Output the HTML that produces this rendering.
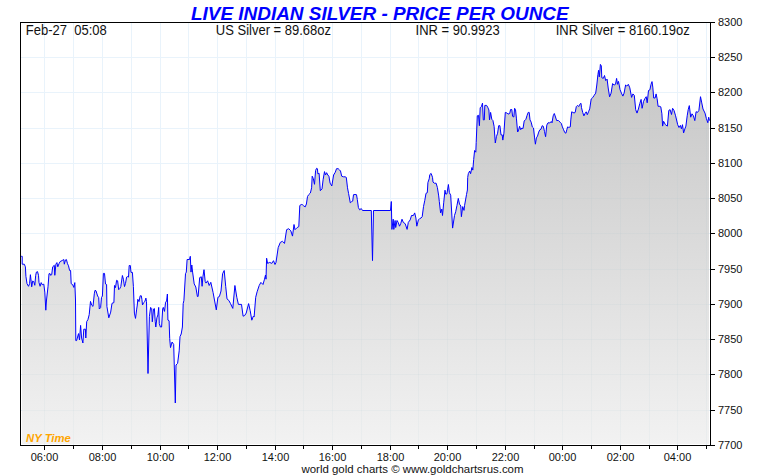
<!DOCTYPE html>
<html><head><meta charset="utf-8"><style>
html,body{margin:0;padding:0;background:#fff;}
body{width:760px;height:475px;overflow:hidden;position:relative;font-family:"Liberation Sans",sans-serif;}
svg{position:absolute;left:0;top:0;}
text{font-family:"Liberation Sans",sans-serif;}
</style></head><body>
<svg width="760" height="475" viewBox="0 0 760 475">
<defs>
<linearGradient id="g" gradientUnits="userSpaceOnUse" x1="0" y1="64" x2="0" y2="445">
<stop offset="0" stop-color="#c6c6c6"/><stop offset="1" stop-color="#f2f2f2"/>
</linearGradient>
<clipPath id="c"><rect x="22" y="23" width="687" height="421"/></clipPath>
<clipPath id="fc"><polygon points="21.2,256.3 22.2,256.3 22.2,264.2 24.3,264.2 25.4,266.8 25.9,276.3 27.0,283.7 28.5,286.3 29.6,283.7 30.4,274.7 31.2,281.6 31.7,286.8 32.7,281.0 33.8,281.6 34.8,285.3 35.7,275.3 36.4,272.1 37.5,271.6 38.5,275.3 39.0,282.6 40.1,286.3 41.2,282.6 42.2,284.7 43.8,284.2 44.8,292.1 45.8,310.2 46.5,300.0 48.0,286.8 49.0,273.7 50.1,273.7 50.6,275.3 51.7,274.7 52.7,266.8 54.3,265.3 54.8,275.3 55.9,264.2 56.9,262.6 57.8,266.8 59.0,263.7 60.1,261.6 62.2,260.5 63.8,259.5 64.3,264.2 65.4,260.0 66.4,259.5 67.5,263.7 68.5,265.8 69.6,270.5 70.6,270.5 71.2,283.7 72.7,284.7 73.8,287.4 74.8,282.6 75.5,300.0 75.8,340.6 76.6,340.6 78.5,333.6 79.5,340.0 80.6,325.4 81.6,338.0 82.9,343.0 83.8,329.2 85.4,329.2 85.8,338.0 86.7,321.6 87.9,319.7 89.2,314.7 90.5,301.4 91.7,305.2 93.0,306.4 94.3,293.8 95.0,290.3 96.0,290.8 97.6,296.0 98.7,297.6 99.3,309.0 100.6,307.7 101.5,297.5 102.4,296.0 103.4,273.4 104.5,273.4 105.5,284.0 106.6,284.5 106.9,306.4 108.8,317.8 110.7,312.1 112.0,303.3 113.9,302.6 114.5,285.5 115.5,287.6 116.6,280.3 117.6,280.8 118.7,289.7 119.7,288.7 120.8,286.6 122.4,275.5 123.4,279.2 124.5,286.6 125.5,283.4 126.6,277.1 127.6,276.6 128.5,277.1 129.2,265.5 130.3,265.5 131.0,272.4 132.4,272.4 133.4,286.6 134.4,313.1 135.5,318.4 136.7,309.1 137.3,305.0 137.8,299.3 139.0,301.6 140.2,295.8 141.3,295.8 141.9,299.3 142.5,305.0 143.6,302.7 144.8,301.6 145.9,298.1 146.5,301.6 147.1,330.0 148.0,373.5 148.8,340.0 149.4,316.6 150.6,307.4 151.7,308.5 152.3,321.8 153.5,309.1 154.4,308.5 155.2,321.3 155.8,327.0 156.9,317.8 157.9,314.9 158.7,307.4 159.3,323.6 160.4,327.0 161.6,327.0 162.7,308.5 163.3,307.4 164.5,311.4 165.6,302.2 166.6,301.0 167.4,294.0 167.9,320.1 169.1,320.7 169.7,338.6 170.5,347.6 172.1,342.0 173.7,344.5 175.3,403.0 176.0,365.0 177.6,363.4 179.2,350.8 180.0,336.6 181.2,334.0 182.4,327.0 183.2,303.6 183.9,300.5 185.5,273.7 186.3,272.1 187.1,259.5 189.5,259.5 190.3,256.3 191.0,272.1 191.8,265.0 192.6,272.1 194.2,283.9 195.8,287.0 197.4,296.5 198.1,296.5 199.7,277.6 201.3,276.8 202.1,286.3 202.9,276.8 204.0,269.7 205.2,281.5 206.0,283.1 207.6,280.8 209.2,285.5 210.8,282.3 213.1,292.6 216.3,309.9 217.9,297.3 219.4,296.5 221.0,291.0 222.6,273.7 224.2,270.5 225.7,286.3 227.0,298.9 228.9,300.5 230.5,303.6 232.8,308.4 234.9,285.5 236.8,297.3 238.4,304.4 241.5,304.4 243.1,316.2 244.7,315.5 246.2,313.1 248.6,303.6 250.2,310.7 251.8,320.2 253.3,316.2 254.1,317.0 255.7,297.3 257.1,291.8 259.2,285.5 260.9,282.4 263.0,284.5 264.5,279.2 265.5,275.0 266.0,279.2 266.6,258.2 267.6,263.4 269.7,262.4 271.8,263.4 273.5,260.7 275.0,264.5 276.0,262.4 278.2,247.6 280.3,242.4 282.4,241.3 284.5,243.4 286.6,229.7 288.7,228.7 290.8,230.8 292.5,236.1 294.0,224.5 295.0,229.7 297.1,227.6 298.8,226.6 299.8,205.5 301.3,204.5 302.3,204.6 303.5,205.7 305.2,206.9 306.4,204.0 307.5,196.5 308.7,194.7 310.4,193.0 311.6,187.8 312.2,176.2 313.3,178.5 314.5,184.3 315.6,170.4 316.6,168.3 317.4,168.7 317.9,173.9 319.1,173.3 320.3,190.7 322.0,188.9 323.1,179.7 324.5,171.6 325.5,175.0 326.6,172.7 327.8,175.0 328.9,176.2 330.1,183.1 331.8,186.0 333.6,175.0 335.3,172.2 336.5,168.7 338.2,168.7 339.4,169.8 340.5,171.0 341.7,176.2 343.4,176.8 345.1,176.8 346.3,177.4 347.5,187.8 348.6,193.6 350.3,202.8 351.5,201.7 352.7,201.1 353.5,194.7 355.0,194.5 356.5,194.7 357.3,199.4 358.4,207.5 359.6,209.8 361.3,208.6 362.5,210.5 371.3,210.5 372.5,260.6 373.5,210.5 390.5,210.5 391.3,201.5 391.9,229.4 393.2,219.2 393.8,229.4 395.1,220.5 395.7,227.5 397.0,220.5 398.2,222.4 399.5,226.2 400.7,223.7 402.0,219.2 403.3,222.4 405.2,223.7 407.1,229.4 408.3,222.4 410.2,219.9 411.5,215.5 413.4,215.5 414.7,212.9 415.9,218.0 416.8,226.2 418.4,219.9 419.7,218.6 421.0,218.0 422.2,216.7 423.5,206.6 424.8,200.3 426.0,193.3 427.3,192.7 427.9,182.6 429.2,178.8 429.8,174.6 431.1,173.4 432.5,177.3 433.0,182.0 434.2,183.2 436.1,183.2 437.4,187.6 438.7,195.9 439.3,201.5 440.6,212.9 441.8,209.1 442.5,215.5 443.7,202.8 445.0,190.2 445.6,194.0 446.9,194.0 448.4,184.5 449.4,192.7 450.7,195.2 452.6,228.1 454.5,215.5 455.7,211.7 457.0,205.3 458.3,198.4 459.5,204.1 460.8,206.0 461.4,216.7 462.7,206.6 464.0,210.4 464.6,205.3 466.5,194.6 467.4,190.0 467.7,177.5 468.3,173.7 469.7,171.0 470.6,173.7 471.9,167.5 472.8,170.1 473.7,159.4 474.6,150.5 475.8,152.2 476.2,142.5 477.3,115.8 478.5,115.3 479.4,125.7 480.2,107.7 481.4,106.6 482.5,103.1 483.3,119.9 484.3,119.9 484.8,105.4 486.6,105.4 487.7,107.2 488.9,110.0 489.5,119.9 490.6,112.4 491.8,119.3 492.9,120.5 494.1,126.3 495.3,143.0 496.4,136.7 497.6,133.2 498.7,125.7 499.9,125.7 501.0,134.9 502.2,134.9 502.8,140.1 503.9,133.2 505.3,112.4 506.8,112.9 508.0,114.1 509.7,113.5 510.6,109.5 511.8,109.5 512.6,116.4 513.8,117.0 514.6,108.3 515.5,109.5 516.4,118.1 517.6,132.0 518.4,130.9 519.6,126.3 520.7,129.7 521.9,128.0 523.0,128.6 524.2,121.0 525.9,119.3 527.1,115.3 528.2,112.4 529.2,112.4 530.0,119.9 531.2,122.2 532.3,126.9 533.5,128.0 534.6,137.9 535.4,144.2 536.4,137.9 537.5,136.1 538.7,132.1 539.8,129.8 541.0,129.2 542.2,125.7 543.3,126.3 544.5,131.5 545.6,136.7 546.8,125.1 548.0,122.8 549.7,122.8 551.4,121.6 552.0,122.8 553.2,115.8 554.3,113.5 555.5,117.0 556.6,120.5 558.4,120.5 560.1,122.2 561.3,123.4 562.4,126.9 563.6,129.8 564.8,132.6 565.9,133.2 566.8,129.8 567.6,126.9 568.8,127.4 570.3,126.9 570.8,119.9 571.7,111.8 572.9,112.4 574.0,113.0 575.2,112.4 576.3,106.6 577.5,105.4 578.7,106.6 579.8,104.3 581.0,103.3 581.5,107.7 582.7,112.4 583.9,115.9 585.0,113.5 586.2,111.8 587.3,114.7 588.5,111.8 589.7,108.9 591.2,99.0 592.7,97.6 594.2,95.3 595.7,93.1 596.8,85.0 597.9,74.7 598.6,70.3 599.3,76.9 600.4,64.4 601.3,65.9 601.8,77.7 603.3,78.4 604.5,75.5 605.7,80.6 607.1,79.1 608.2,88.0 609.6,96.8 611.1,93.1 612.6,83.6 614.1,85.0 615.5,84.3 616.6,78.4 617.5,84.3 618.5,81.4 620.0,89.5 621.4,93.1 622.9,96.1 624.1,93.1 625.6,85.0 626.6,85.8 628.1,85.0 628.4,84.4 629.8,87.8 631.6,97.4 632.9,93.9 634.3,95.3 635.7,109.7 637.0,113.1 638.4,109.0 639.8,103.5 641.1,99.4 642.1,108.3 643.5,101.5 644.8,98.7 646.2,96.7 647.2,102.8 648.5,90.5 649.9,89.8 651.0,84.4 652.0,81.6 652.8,87.1 653.7,98.0 655.1,98.0 656.1,93.9 657.1,98.7 658.1,106.3 659.9,106.3 660.8,106.9 661.9,113.8 662.6,126.1 663.6,121.3 665.4,124.7 667.4,126.1 668.8,110.4 670.1,109.7 671.5,114.5 672.6,108.3 674.0,110.4 675.6,115.8 677.7,124.7 679.0,127.5 680.4,125.4 681.4,128.8 682.5,124.7 683.6,132.9 684.9,128.8 685.9,126.1 687.2,115.8 688.2,109.7 689.3,105.6 690.7,117.2 692.0,113.8 693.4,115.8 694.8,120.6 696.1,111.7 697.5,112.4 698.9,110.4 700.5,96.7 701.6,102.1 703.0,109.0 705.0,113.1 706.4,118.6 707.8,122.7 708.7,117.2 709.5,120.6 709.5,445 21.2,445"/></clipPath>
</defs>
<rect width="760" height="475" fill="#fff"/>
<g fill="#e9f3fb" shape-rendering="crispEdges"><rect x="44" y="23" width="1" height="422"/><rect x="73" y="23" width="1" height="422"/><rect x="102" y="23" width="1" height="422"/><rect x="131" y="23" width="1" height="422"/><rect x="160" y="23" width="1" height="422"/><rect x="188" y="23" width="1" height="422"/><rect x="217" y="23" width="1" height="422"/><rect x="246" y="23" width="1" height="422"/><rect x="275" y="23" width="1" height="422"/><rect x="303" y="23" width="1" height="422"/><rect x="332" y="23" width="1" height="422"/><rect x="361" y="23" width="1" height="422"/><rect x="390" y="23" width="1" height="422"/><rect x="418" y="23" width="1" height="422"/><rect x="447" y="23" width="1" height="422"/><rect x="476" y="23" width="1" height="422"/><rect x="505" y="23" width="1" height="422"/><rect x="534" y="23" width="1" height="422"/><rect x="562" y="23" width="1" height="422"/><rect x="591" y="23" width="1" height="422"/><rect x="620" y="23" width="1" height="422"/><rect x="649" y="23" width="1" height="422"/><rect x="677" y="23" width="1" height="422"/><rect x="706" y="23" width="1" height="422"/><rect x="21" y="57" width="689" height="1"/><rect x="21" y="92" width="689" height="1"/><rect x="21" y="128" width="689" height="1"/><rect x="21" y="163" width="689" height="1"/><rect x="21" y="198" width="689" height="1"/><rect x="21" y="233" width="689" height="1"/><rect x="21" y="269" width="689" height="1"/><rect x="21" y="304" width="689" height="1"/><rect x="21" y="339" width="689" height="1"/><rect x="21" y="374" width="689" height="1"/><rect x="21" y="410" width="689" height="1"/></g>
<polygon clip-path="url(#c)" points="21.2,256.3 22.2,256.3 22.2,264.2 24.3,264.2 25.4,266.8 25.9,276.3 27.0,283.7 28.5,286.3 29.6,283.7 30.4,274.7 31.2,281.6 31.7,286.8 32.7,281.0 33.8,281.6 34.8,285.3 35.7,275.3 36.4,272.1 37.5,271.6 38.5,275.3 39.0,282.6 40.1,286.3 41.2,282.6 42.2,284.7 43.8,284.2 44.8,292.1 45.8,310.2 46.5,300.0 48.0,286.8 49.0,273.7 50.1,273.7 50.6,275.3 51.7,274.7 52.7,266.8 54.3,265.3 54.8,275.3 55.9,264.2 56.9,262.6 57.8,266.8 59.0,263.7 60.1,261.6 62.2,260.5 63.8,259.5 64.3,264.2 65.4,260.0 66.4,259.5 67.5,263.7 68.5,265.8 69.6,270.5 70.6,270.5 71.2,283.7 72.7,284.7 73.8,287.4 74.8,282.6 75.5,300.0 75.8,340.6 76.6,340.6 78.5,333.6 79.5,340.0 80.6,325.4 81.6,338.0 82.9,343.0 83.8,329.2 85.4,329.2 85.8,338.0 86.7,321.6 87.9,319.7 89.2,314.7 90.5,301.4 91.7,305.2 93.0,306.4 94.3,293.8 95.0,290.3 96.0,290.8 97.6,296.0 98.7,297.6 99.3,309.0 100.6,307.7 101.5,297.5 102.4,296.0 103.4,273.4 104.5,273.4 105.5,284.0 106.6,284.5 106.9,306.4 108.8,317.8 110.7,312.1 112.0,303.3 113.9,302.6 114.5,285.5 115.5,287.6 116.6,280.3 117.6,280.8 118.7,289.7 119.7,288.7 120.8,286.6 122.4,275.5 123.4,279.2 124.5,286.6 125.5,283.4 126.6,277.1 127.6,276.6 128.5,277.1 129.2,265.5 130.3,265.5 131.0,272.4 132.4,272.4 133.4,286.6 134.4,313.1 135.5,318.4 136.7,309.1 137.3,305.0 137.8,299.3 139.0,301.6 140.2,295.8 141.3,295.8 141.9,299.3 142.5,305.0 143.6,302.7 144.8,301.6 145.9,298.1 146.5,301.6 147.1,330.0 148.0,373.5 148.8,340.0 149.4,316.6 150.6,307.4 151.7,308.5 152.3,321.8 153.5,309.1 154.4,308.5 155.2,321.3 155.8,327.0 156.9,317.8 157.9,314.9 158.7,307.4 159.3,323.6 160.4,327.0 161.6,327.0 162.7,308.5 163.3,307.4 164.5,311.4 165.6,302.2 166.6,301.0 167.4,294.0 167.9,320.1 169.1,320.7 169.7,338.6 170.5,347.6 172.1,342.0 173.7,344.5 175.3,403.0 176.0,365.0 177.6,363.4 179.2,350.8 180.0,336.6 181.2,334.0 182.4,327.0 183.2,303.6 183.9,300.5 185.5,273.7 186.3,272.1 187.1,259.5 189.5,259.5 190.3,256.3 191.0,272.1 191.8,265.0 192.6,272.1 194.2,283.9 195.8,287.0 197.4,296.5 198.1,296.5 199.7,277.6 201.3,276.8 202.1,286.3 202.9,276.8 204.0,269.7 205.2,281.5 206.0,283.1 207.6,280.8 209.2,285.5 210.8,282.3 213.1,292.6 216.3,309.9 217.9,297.3 219.4,296.5 221.0,291.0 222.6,273.7 224.2,270.5 225.7,286.3 227.0,298.9 228.9,300.5 230.5,303.6 232.8,308.4 234.9,285.5 236.8,297.3 238.4,304.4 241.5,304.4 243.1,316.2 244.7,315.5 246.2,313.1 248.6,303.6 250.2,310.7 251.8,320.2 253.3,316.2 254.1,317.0 255.7,297.3 257.1,291.8 259.2,285.5 260.9,282.4 263.0,284.5 264.5,279.2 265.5,275.0 266.0,279.2 266.6,258.2 267.6,263.4 269.7,262.4 271.8,263.4 273.5,260.7 275.0,264.5 276.0,262.4 278.2,247.6 280.3,242.4 282.4,241.3 284.5,243.4 286.6,229.7 288.7,228.7 290.8,230.8 292.5,236.1 294.0,224.5 295.0,229.7 297.1,227.6 298.8,226.6 299.8,205.5 301.3,204.5 302.3,204.6 303.5,205.7 305.2,206.9 306.4,204.0 307.5,196.5 308.7,194.7 310.4,193.0 311.6,187.8 312.2,176.2 313.3,178.5 314.5,184.3 315.6,170.4 316.6,168.3 317.4,168.7 317.9,173.9 319.1,173.3 320.3,190.7 322.0,188.9 323.1,179.7 324.5,171.6 325.5,175.0 326.6,172.7 327.8,175.0 328.9,176.2 330.1,183.1 331.8,186.0 333.6,175.0 335.3,172.2 336.5,168.7 338.2,168.7 339.4,169.8 340.5,171.0 341.7,176.2 343.4,176.8 345.1,176.8 346.3,177.4 347.5,187.8 348.6,193.6 350.3,202.8 351.5,201.7 352.7,201.1 353.5,194.7 355.0,194.5 356.5,194.7 357.3,199.4 358.4,207.5 359.6,209.8 361.3,208.6 362.5,210.5 371.3,210.5 372.5,260.6 373.5,210.5 390.5,210.5 391.3,201.5 391.9,229.4 393.2,219.2 393.8,229.4 395.1,220.5 395.7,227.5 397.0,220.5 398.2,222.4 399.5,226.2 400.7,223.7 402.0,219.2 403.3,222.4 405.2,223.7 407.1,229.4 408.3,222.4 410.2,219.9 411.5,215.5 413.4,215.5 414.7,212.9 415.9,218.0 416.8,226.2 418.4,219.9 419.7,218.6 421.0,218.0 422.2,216.7 423.5,206.6 424.8,200.3 426.0,193.3 427.3,192.7 427.9,182.6 429.2,178.8 429.8,174.6 431.1,173.4 432.5,177.3 433.0,182.0 434.2,183.2 436.1,183.2 437.4,187.6 438.7,195.9 439.3,201.5 440.6,212.9 441.8,209.1 442.5,215.5 443.7,202.8 445.0,190.2 445.6,194.0 446.9,194.0 448.4,184.5 449.4,192.7 450.7,195.2 452.6,228.1 454.5,215.5 455.7,211.7 457.0,205.3 458.3,198.4 459.5,204.1 460.8,206.0 461.4,216.7 462.7,206.6 464.0,210.4 464.6,205.3 466.5,194.6 467.4,190.0 467.7,177.5 468.3,173.7 469.7,171.0 470.6,173.7 471.9,167.5 472.8,170.1 473.7,159.4 474.6,150.5 475.8,152.2 476.2,142.5 477.3,115.8 478.5,115.3 479.4,125.7 480.2,107.7 481.4,106.6 482.5,103.1 483.3,119.9 484.3,119.9 484.8,105.4 486.6,105.4 487.7,107.2 488.9,110.0 489.5,119.9 490.6,112.4 491.8,119.3 492.9,120.5 494.1,126.3 495.3,143.0 496.4,136.7 497.6,133.2 498.7,125.7 499.9,125.7 501.0,134.9 502.2,134.9 502.8,140.1 503.9,133.2 505.3,112.4 506.8,112.9 508.0,114.1 509.7,113.5 510.6,109.5 511.8,109.5 512.6,116.4 513.8,117.0 514.6,108.3 515.5,109.5 516.4,118.1 517.6,132.0 518.4,130.9 519.6,126.3 520.7,129.7 521.9,128.0 523.0,128.6 524.2,121.0 525.9,119.3 527.1,115.3 528.2,112.4 529.2,112.4 530.0,119.9 531.2,122.2 532.3,126.9 533.5,128.0 534.6,137.9 535.4,144.2 536.4,137.9 537.5,136.1 538.7,132.1 539.8,129.8 541.0,129.2 542.2,125.7 543.3,126.3 544.5,131.5 545.6,136.7 546.8,125.1 548.0,122.8 549.7,122.8 551.4,121.6 552.0,122.8 553.2,115.8 554.3,113.5 555.5,117.0 556.6,120.5 558.4,120.5 560.1,122.2 561.3,123.4 562.4,126.9 563.6,129.8 564.8,132.6 565.9,133.2 566.8,129.8 567.6,126.9 568.8,127.4 570.3,126.9 570.8,119.9 571.7,111.8 572.9,112.4 574.0,113.0 575.2,112.4 576.3,106.6 577.5,105.4 578.7,106.6 579.8,104.3 581.0,103.3 581.5,107.7 582.7,112.4 583.9,115.9 585.0,113.5 586.2,111.8 587.3,114.7 588.5,111.8 589.7,108.9 591.2,99.0 592.7,97.6 594.2,95.3 595.7,93.1 596.8,85.0 597.9,74.7 598.6,70.3 599.3,76.9 600.4,64.4 601.3,65.9 601.8,77.7 603.3,78.4 604.5,75.5 605.7,80.6 607.1,79.1 608.2,88.0 609.6,96.8 611.1,93.1 612.6,83.6 614.1,85.0 615.5,84.3 616.6,78.4 617.5,84.3 618.5,81.4 620.0,89.5 621.4,93.1 622.9,96.1 624.1,93.1 625.6,85.0 626.6,85.8 628.1,85.0 628.4,84.4 629.8,87.8 631.6,97.4 632.9,93.9 634.3,95.3 635.7,109.7 637.0,113.1 638.4,109.0 639.8,103.5 641.1,99.4 642.1,108.3 643.5,101.5 644.8,98.7 646.2,96.7 647.2,102.8 648.5,90.5 649.9,89.8 651.0,84.4 652.0,81.6 652.8,87.1 653.7,98.0 655.1,98.0 656.1,93.9 657.1,98.7 658.1,106.3 659.9,106.3 660.8,106.9 661.9,113.8 662.6,126.1 663.6,121.3 665.4,124.7 667.4,126.1 668.8,110.4 670.1,109.7 671.5,114.5 672.6,108.3 674.0,110.4 675.6,115.8 677.7,124.7 679.0,127.5 680.4,125.4 681.4,128.8 682.5,124.7 683.6,132.9 684.9,128.8 685.9,126.1 687.2,115.8 688.2,109.7 689.3,105.6 690.7,117.2 692.0,113.8 693.4,115.8 694.8,120.6 696.1,111.7 697.5,112.4 698.9,110.4 700.5,96.7 701.6,102.1 703.0,109.0 705.0,113.1 706.4,118.6 707.8,122.7 708.7,117.2 709.5,120.6 709.5,445 21.2,445" fill="url(#g)"/>
<g clip-path="url(#fc)"><g fill="#90b8c8" fill-opacity="0.07" shape-rendering="crispEdges"><rect x="44" y="23" width="1" height="422"/><rect x="73" y="23" width="1" height="422"/><rect x="102" y="23" width="1" height="422"/><rect x="131" y="23" width="1" height="422"/><rect x="160" y="23" width="1" height="422"/><rect x="188" y="23" width="1" height="422"/><rect x="217" y="23" width="1" height="422"/><rect x="246" y="23" width="1" height="422"/><rect x="275" y="23" width="1" height="422"/><rect x="303" y="23" width="1" height="422"/><rect x="332" y="23" width="1" height="422"/><rect x="361" y="23" width="1" height="422"/><rect x="390" y="23" width="1" height="422"/><rect x="418" y="23" width="1" height="422"/><rect x="447" y="23" width="1" height="422"/><rect x="476" y="23" width="1" height="422"/><rect x="505" y="23" width="1" height="422"/><rect x="534" y="23" width="1" height="422"/><rect x="562" y="23" width="1" height="422"/><rect x="591" y="23" width="1" height="422"/><rect x="620" y="23" width="1" height="422"/><rect x="649" y="23" width="1" height="422"/><rect x="677" y="23" width="1" height="422"/><rect x="706" y="23" width="1" height="422"/><rect x="21" y="57" width="689" height="1"/><rect x="21" y="92" width="689" height="1"/><rect x="21" y="128" width="689" height="1"/><rect x="21" y="163" width="689" height="1"/><rect x="21" y="198" width="689" height="1"/><rect x="21" y="233" width="689" height="1"/><rect x="21" y="269" width="689" height="1"/><rect x="21" y="304" width="689" height="1"/><rect x="21" y="339" width="689" height="1"/><rect x="21" y="374" width="689" height="1"/><rect x="21" y="410" width="689" height="1"/></g></g>
<polyline points="21.2,256.3 22.2,256.3 22.2,264.2 24.3,264.2 25.4,266.8 25.9,276.3 27.0,283.7 28.5,286.3 29.6,283.7 30.4,274.7 31.2,281.6 31.7,286.8 32.7,281.0 33.8,281.6 34.8,285.3 35.7,275.3 36.4,272.1 37.5,271.6 38.5,275.3 39.0,282.6 40.1,286.3 41.2,282.6 42.2,284.7 43.8,284.2 44.8,292.1 45.8,310.2 46.5,300.0 48.0,286.8 49.0,273.7 50.1,273.7 50.6,275.3 51.7,274.7 52.7,266.8 54.3,265.3 54.8,275.3 55.9,264.2 56.9,262.6 57.8,266.8 59.0,263.7 60.1,261.6 62.2,260.5 63.8,259.5 64.3,264.2 65.4,260.0 66.4,259.5 67.5,263.7 68.5,265.8 69.6,270.5 70.6,270.5 71.2,283.7 72.7,284.7 73.8,287.4 74.8,282.6 75.5,300.0 75.8,340.6 76.6,340.6 78.5,333.6 79.5,340.0 80.6,325.4 81.6,338.0 82.9,343.0 83.8,329.2 85.4,329.2 85.8,338.0 86.7,321.6 87.9,319.7 89.2,314.7 90.5,301.4 91.7,305.2 93.0,306.4 94.3,293.8 95.0,290.3 96.0,290.8 97.6,296.0 98.7,297.6 99.3,309.0 100.6,307.7 101.5,297.5 102.4,296.0 103.4,273.4 104.5,273.4 105.5,284.0 106.6,284.5 106.9,306.4 108.8,317.8 110.7,312.1 112.0,303.3 113.9,302.6 114.5,285.5 115.5,287.6 116.6,280.3 117.6,280.8 118.7,289.7 119.7,288.7 120.8,286.6 122.4,275.5 123.4,279.2 124.5,286.6 125.5,283.4 126.6,277.1 127.6,276.6 128.5,277.1 129.2,265.5 130.3,265.5 131.0,272.4 132.4,272.4 133.4,286.6 134.4,313.1 135.5,318.4 136.7,309.1 137.3,305.0 137.8,299.3 139.0,301.6 140.2,295.8 141.3,295.8 141.9,299.3 142.5,305.0 143.6,302.7 144.8,301.6 145.9,298.1 146.5,301.6 147.1,330.0 148.0,373.5 148.8,340.0 149.4,316.6 150.6,307.4 151.7,308.5 152.3,321.8 153.5,309.1 154.4,308.5 155.2,321.3 155.8,327.0 156.9,317.8 157.9,314.9 158.7,307.4 159.3,323.6 160.4,327.0 161.6,327.0 162.7,308.5 163.3,307.4 164.5,311.4 165.6,302.2 166.6,301.0 167.4,294.0 167.9,320.1 169.1,320.7 169.7,338.6 170.5,347.6 172.1,342.0 173.7,344.5 175.3,403.0 176.0,365.0 177.6,363.4 179.2,350.8 180.0,336.6 181.2,334.0 182.4,327.0 183.2,303.6 183.9,300.5 185.5,273.7 186.3,272.1 187.1,259.5 189.5,259.5 190.3,256.3 191.0,272.1 191.8,265.0 192.6,272.1 194.2,283.9 195.8,287.0 197.4,296.5 198.1,296.5 199.7,277.6 201.3,276.8 202.1,286.3 202.9,276.8 204.0,269.7 205.2,281.5 206.0,283.1 207.6,280.8 209.2,285.5 210.8,282.3 213.1,292.6 216.3,309.9 217.9,297.3 219.4,296.5 221.0,291.0 222.6,273.7 224.2,270.5 225.7,286.3 227.0,298.9 228.9,300.5 230.5,303.6 232.8,308.4 234.9,285.5 236.8,297.3 238.4,304.4 241.5,304.4 243.1,316.2 244.7,315.5 246.2,313.1 248.6,303.6 250.2,310.7 251.8,320.2 253.3,316.2 254.1,317.0 255.7,297.3 257.1,291.8 259.2,285.5 260.9,282.4 263.0,284.5 264.5,279.2 265.5,275.0 266.0,279.2 266.6,258.2 267.6,263.4 269.7,262.4 271.8,263.4 273.5,260.7 275.0,264.5 276.0,262.4 278.2,247.6 280.3,242.4 282.4,241.3 284.5,243.4 286.6,229.7 288.7,228.7 290.8,230.8 292.5,236.1 294.0,224.5 295.0,229.7 297.1,227.6 298.8,226.6 299.8,205.5 301.3,204.5 302.3,204.6 303.5,205.7 305.2,206.9 306.4,204.0 307.5,196.5 308.7,194.7 310.4,193.0 311.6,187.8 312.2,176.2 313.3,178.5 314.5,184.3 315.6,170.4 316.6,168.3 317.4,168.7 317.9,173.9 319.1,173.3 320.3,190.7 322.0,188.9 323.1,179.7 324.5,171.6 325.5,175.0 326.6,172.7 327.8,175.0 328.9,176.2 330.1,183.1 331.8,186.0 333.6,175.0 335.3,172.2 336.5,168.7 338.2,168.7 339.4,169.8 340.5,171.0 341.7,176.2 343.4,176.8 345.1,176.8 346.3,177.4 347.5,187.8 348.6,193.6 350.3,202.8 351.5,201.7 352.7,201.1 353.5,194.7 355.0,194.5 356.5,194.7 357.3,199.4 358.4,207.5 359.6,209.8 361.3,208.6 362.5,210.5 371.3,210.5 372.5,260.6 373.5,210.5 390.5,210.5 391.3,201.5 391.9,229.4 393.2,219.2 393.8,229.4 395.1,220.5 395.7,227.5 397.0,220.5 398.2,222.4 399.5,226.2 400.7,223.7 402.0,219.2 403.3,222.4 405.2,223.7 407.1,229.4 408.3,222.4 410.2,219.9 411.5,215.5 413.4,215.5 414.7,212.9 415.9,218.0 416.8,226.2 418.4,219.9 419.7,218.6 421.0,218.0 422.2,216.7 423.5,206.6 424.8,200.3 426.0,193.3 427.3,192.7 427.9,182.6 429.2,178.8 429.8,174.6 431.1,173.4 432.5,177.3 433.0,182.0 434.2,183.2 436.1,183.2 437.4,187.6 438.7,195.9 439.3,201.5 440.6,212.9 441.8,209.1 442.5,215.5 443.7,202.8 445.0,190.2 445.6,194.0 446.9,194.0 448.4,184.5 449.4,192.7 450.7,195.2 452.6,228.1 454.5,215.5 455.7,211.7 457.0,205.3 458.3,198.4 459.5,204.1 460.8,206.0 461.4,216.7 462.7,206.6 464.0,210.4 464.6,205.3 466.5,194.6 467.4,190.0 467.7,177.5 468.3,173.7 469.7,171.0 470.6,173.7 471.9,167.5 472.8,170.1 473.7,159.4 474.6,150.5 475.8,152.2 476.2,142.5 477.3,115.8 478.5,115.3 479.4,125.7 480.2,107.7 481.4,106.6 482.5,103.1 483.3,119.9 484.3,119.9 484.8,105.4 486.6,105.4 487.7,107.2 488.9,110.0 489.5,119.9 490.6,112.4 491.8,119.3 492.9,120.5 494.1,126.3 495.3,143.0 496.4,136.7 497.6,133.2 498.7,125.7 499.9,125.7 501.0,134.9 502.2,134.9 502.8,140.1 503.9,133.2 505.3,112.4 506.8,112.9 508.0,114.1 509.7,113.5 510.6,109.5 511.8,109.5 512.6,116.4 513.8,117.0 514.6,108.3 515.5,109.5 516.4,118.1 517.6,132.0 518.4,130.9 519.6,126.3 520.7,129.7 521.9,128.0 523.0,128.6 524.2,121.0 525.9,119.3 527.1,115.3 528.2,112.4 529.2,112.4 530.0,119.9 531.2,122.2 532.3,126.9 533.5,128.0 534.6,137.9 535.4,144.2 536.4,137.9 537.5,136.1 538.7,132.1 539.8,129.8 541.0,129.2 542.2,125.7 543.3,126.3 544.5,131.5 545.6,136.7 546.8,125.1 548.0,122.8 549.7,122.8 551.4,121.6 552.0,122.8 553.2,115.8 554.3,113.5 555.5,117.0 556.6,120.5 558.4,120.5 560.1,122.2 561.3,123.4 562.4,126.9 563.6,129.8 564.8,132.6 565.9,133.2 566.8,129.8 567.6,126.9 568.8,127.4 570.3,126.9 570.8,119.9 571.7,111.8 572.9,112.4 574.0,113.0 575.2,112.4 576.3,106.6 577.5,105.4 578.7,106.6 579.8,104.3 581.0,103.3 581.5,107.7 582.7,112.4 583.9,115.9 585.0,113.5 586.2,111.8 587.3,114.7 588.5,111.8 589.7,108.9 591.2,99.0 592.7,97.6 594.2,95.3 595.7,93.1 596.8,85.0 597.9,74.7 598.6,70.3 599.3,76.9 600.4,64.4 601.3,65.9 601.8,77.7 603.3,78.4 604.5,75.5 605.7,80.6 607.1,79.1 608.2,88.0 609.6,96.8 611.1,93.1 612.6,83.6 614.1,85.0 615.5,84.3 616.6,78.4 617.5,84.3 618.5,81.4 620.0,89.5 621.4,93.1 622.9,96.1 624.1,93.1 625.6,85.0 626.6,85.8 628.1,85.0 628.4,84.4 629.8,87.8 631.6,97.4 632.9,93.9 634.3,95.3 635.7,109.7 637.0,113.1 638.4,109.0 639.8,103.5 641.1,99.4 642.1,108.3 643.5,101.5 644.8,98.7 646.2,96.7 647.2,102.8 648.5,90.5 649.9,89.8 651.0,84.4 652.0,81.6 652.8,87.1 653.7,98.0 655.1,98.0 656.1,93.9 657.1,98.7 658.1,106.3 659.9,106.3 660.8,106.9 661.9,113.8 662.6,126.1 663.6,121.3 665.4,124.7 667.4,126.1 668.8,110.4 670.1,109.7 671.5,114.5 672.6,108.3 674.0,110.4 675.6,115.8 677.7,124.7 679.0,127.5 680.4,125.4 681.4,128.8 682.5,124.7 683.6,132.9 684.9,128.8 685.9,126.1 687.2,115.8 688.2,109.7 689.3,105.6 690.7,117.2 692.0,113.8 693.4,115.8 694.8,120.6 696.1,111.7 697.5,112.4 698.9,110.4 700.5,96.7 701.6,102.1 703.0,109.0 705.0,113.1 706.4,118.6 707.8,122.7 708.7,117.2 709.5,120.6" fill="none" stroke="#0000ff" stroke-width="1" stroke-linejoin="miter" stroke-miterlimit="2"/>
<g fill="#000" shape-rendering="crispEdges"><rect x="20" y="22" width="691" height="1"/><rect x="20" y="445" width="691" height="1"/><rect x="20" y="22" width="1" height="424"/><rect x="710" y="22" width="1" height="424"/><rect x="711" y="22" width="4" height="1"/><rect x="711" y="57" width="4" height="1"/><rect x="711" y="92" width="4" height="1"/><rect x="711" y="128" width="4" height="1"/><rect x="711" y="163" width="4" height="1"/><rect x="711" y="198" width="4" height="1"/><rect x="711" y="233" width="4" height="1"/><rect x="711" y="269" width="4" height="1"/><rect x="711" y="304" width="4" height="1"/><rect x="711" y="339" width="4" height="1"/><rect x="711" y="374" width="4" height="1"/><rect x="711" y="410" width="4" height="1"/><rect x="711" y="445" width="4" height="1"/><rect x="44" y="446" width="1" height="4"/><rect x="73" y="446" width="1" height="3"/><rect x="102" y="446" width="1" height="4"/><rect x="131" y="446" width="1" height="3"/><rect x="160" y="446" width="1" height="4"/><rect x="188" y="446" width="1" height="3"/><rect x="217" y="446" width="1" height="4"/><rect x="246" y="446" width="1" height="3"/><rect x="275" y="446" width="1" height="4"/><rect x="303" y="446" width="1" height="3"/><rect x="332" y="446" width="1" height="4"/><rect x="361" y="446" width="1" height="3"/><rect x="390" y="446" width="1" height="4"/><rect x="418" y="446" width="1" height="3"/><rect x="447" y="446" width="1" height="4"/><rect x="476" y="446" width="1" height="3"/><rect x="505" y="446" width="1" height="4"/><rect x="534" y="446" width="1" height="3"/><rect x="562" y="446" width="1" height="4"/><rect x="591" y="446" width="1" height="3"/><rect x="620" y="446" width="1" height="4"/><rect x="649" y="446" width="1" height="3"/><rect x="677" y="446" width="1" height="4"/><rect x="706" y="446" width="1" height="3"/></g>
<g font-size="11" fill="#111"><text x="718" y="26">8300</text><text x="718" y="61">8250</text><text x="718" y="96">8200</text><text x="718" y="132">8150</text><text x="718" y="167">8100</text><text x="718" y="202">8050</text><text x="718" y="237">8000</text><text x="718" y="273">7950</text><text x="718" y="308">7900</text><text x="718" y="343">7850</text><text x="718" y="378">7800</text><text x="718" y="414">7750</text><text x="718" y="449">7700</text></g>
<g font-size="11" fill="#111" text-anchor="middle"><text x="44.5" y="461">06:00</text><text x="102.5" y="461">08:00</text><text x="160.5" y="461">10:00</text><text x="217.5" y="461">12:00</text><text x="275.5" y="461">14:00</text><text x="332.5" y="461">16:00</text><text x="390.5" y="461">18:00</text><text x="447.5" y="461">20:00</text><text x="505.5" y="461">22:00</text><text x="562.5" y="461">00:00</text><text x="620.5" y="461">02:00</text><text x="677.5" y="461">04:00</text></g>
<text transform="translate(191,19.8) scale(1.052,1)" font-size="18" font-weight="bold" font-style="italic" fill="#0000ff">LIVE INDIAN SILVER - PRICE PER OUNCE</text>
<g font-size="14" fill="#111"><text transform="translate(25.8,35) scale(0.929,1)" xml:space="preserve">Feb-27  05:08</text><text transform="translate(215.8,35) scale(0.929,1)">US Silver = 89.68oz</text><text transform="translate(415.6,35) scale(0.929,1)">INR = 90.9923</text><text transform="translate(555.7,35) scale(0.929,1)">INR Silver = 8160.19oz</text></g>
<text x="26" y="442" font-size="11.3" font-weight="bold" font-style="italic" fill="#ffa500">NY Time</text>
<text x="301.5" y="472.5" font-size="11.45" fill="#111">world gold charts © www.goldchartsrus.com</text>
</svg>
</body></html>
